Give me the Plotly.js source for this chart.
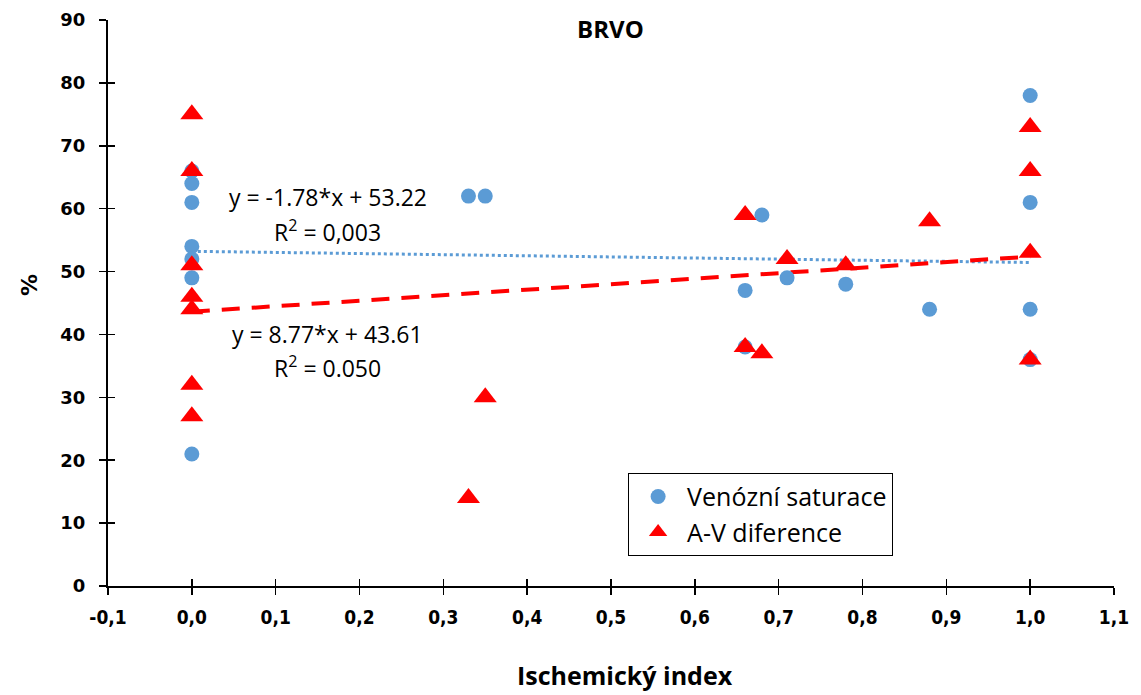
<!DOCTYPE html>
<html>
<head>
<meta charset="utf-8">
<script src="https://cdn.plot.ly/plotly-3.0.1.min.js"></script>
<style>html,body{margin:0;padding:0;background:#fff;}#chart{width:1141px;height:695px;}</style>
</head>
<body>
<div id="chart"></div>
<script>
// Data
const venX = [0, 0, 0, 0, 0, 0, 0, 0.33, 0.35, 0.66, 0.66, 0.68, 0.71, 0.78, 0.88, 1.0, 1.0, 1.0, 1.0];
const venY = [66, 64, 61, 54, 52, 49, 21, 62, 62, 47, 38, 59, 49, 48, 44, 78, 61, 44, 36];
const avX = [0, 0, 0, 0, 0, 0, 0, 0.33, 0.35, 0.66, 0.66, 0.68, 0.71, 0.78, 0.88, 1.0, 1.0, 1.0, 1.0];
const avY = [75, 66, 51, 46, 44, 32, 27, 14, 30, 59, 38, 37, 52, 51, 58, 73, 66, 53, 36];
// Trend line coefficients (slope, intercept) as printed on the chart
const venFit = [-1.78, 53.22];
const avFit = [8.77, 43.61];
const fitX = [0, 1];
const xTickVals = [-0.1, 0, 0.1, 0.2, 0.3, 0.4, 0.5, 0.6, 0.7, 0.8, 0.9, 1.0, 1.1];
const xTickText = ['-0,1', '0,0', '0,1', '0,2', '0,3', '0,4', '0,5', '0,6', '0,7', '0,8', '0,9', '1,0', '1,1'];
const yTickVals = [0, 10, 20, 30, 40, 50, 60, 70, 80, 90];

const blue = '#5B9BD5';
const red = '#FF0000';
const txtFont = 'Open Sans, Liberation Sans, sans-serif';

const traces = [
  {x: fitX, y: fitX.map(v => venFit[0] * v + venFit[1]), mode: 'lines', showlegend: false,
   line: {color: blue, width: 3, dash: 'dot'}, hoverinfo: 'skip'},
  {x: fitX, y: fitX.map(v => avFit[0] * v + avFit[1]), mode: 'lines', showlegend: false,
   line: {color: red, width: 4, dash: '18px,12px'}, hoverinfo: 'skip'},
  {x: venX, y: venY, mode: 'markers', name: 'Venózní saturace',
   marker: {symbol: 'circle', size: 15, color: blue}},
  {x: avX, y: avY, mode: 'markers', name: 'A-V diference',
   marker: {symbol: 'triangle-up', size: 20, color: red}},
  {x: [0], y: [0], xaxis: 'x2', yaxis: 'y2', mode: 'markers', marker: {opacity: 0}, showlegend: false, hoverinfo: 'skip'}
];

const annFont = {family: txtFont, size: 23, color: '#000'};
const layout = {
  width: 1141, height: 695,
  margin: {l: 108, r: 27, t: 20, b: 109},
  paper_bgcolor: '#fff', plot_bgcolor: '#fff',
  title: {text: '<b>BRVO</b>', x: 0.535, xanchor: 'center', xref: 'container', y: 0.957, yanchor: 'middle', yref: 'container',
          font: {family: txtFont, size: 24, color: '#000'}},
  showlegend: true,
  legend: {x: 0.517, y: 0.2, xanchor: 'left', yanchor: 'top', bgcolor: '#fff',
           bordercolor: '#000', borderwidth: 1,
           font: {family: txtFont, size: 25, color: '#000'}, tracegroupgap: 0,
           itemwidth: 48},
  xaxis: {range: [-0.1, 1.1], tickvals: xTickVals, ticktext: xTickText,
          showgrid: false, zeroline: false, showline: true, linecolor: '#000', linewidth: 2,
          ticks: 'outside', ticklen: 7, tickwidth: 1.5, tickcolor: '#000', ticklabelstandoff: 6,
          tickfont: {family: 'Liberation Sans Narrow, DejaVu Sans Condensed, Arial Narrow, sans-serif', size: 19, color: '#000', weight: 'bold'}},
  yaxis: {range: [0, 90], tickvals: yTickVals,
          showgrid: false, zeroline: false, showline: true, linecolor: '#000', linewidth: 2,
          ticks: 'outside', ticklen: 7, tickwidth: 1.5, tickcolor: '#000', ticklabelstandoff: 10,
          tickfont: {family: 'DejaVu Sans, Verdana, sans-serif', size: 18, color: '#000', weight: 'bold'}},
  xaxis2: {overlaying: 'x', anchor: 'y2', range: [-0.1, 1.1], tickvals: xTickVals,
           showticklabels: false, showgrid: false, zeroline: false, showline: false,
           ticks: 'inside', ticklen: 7, tickwidth: 1.5, tickcolor: '#000'},
  yaxis2: {overlaying: 'y', anchor: 'x2', range: [0, 90], tickvals: yTickVals,
           showticklabels: false, showgrid: false, zeroline: false, showline: false,
           ticks: 'inside', ticklen: 7, tickwidth: 1.5, tickcolor: '#000'},
  annotations: [
    {x: 0.162, y: 61.8, xref: 'x', yref: 'y', showarrow: false, xanchor: 'center',
     text: 'y = -1.78*x + 53.22', font: annFont},
    {x: 0.162, y: 56.5, xref: 'x', yref: 'y', showarrow: false, xanchor: 'center',
     text: 'R<sup>2</sup> = 0,003', font: annFont},
    {x: 0.162, y: 40, xref: 'x', yref: 'y', showarrow: false, xanchor: 'center',
     text: 'y = 8.77*x + 43.61', font: annFont},
    {x: 0.162, y: 34.8, xref: 'x', yref: 'y', showarrow: false, xanchor: 'center',
     text: 'R<sup>2</sup> = 0.050', font: annFont},
    {x: -0.0775, y: 0.532, xref: 'paper', yref: 'paper', showarrow: false, textangle: -90,
     xanchor: 'center', yanchor: 'middle', text: '<b>%</b>',
     font: {family: 'DejaVu Sans, Verdana, sans-serif', size: 22, color: '#000'}},
    {x: 0.514, y: -0.157, xref: 'paper', yref: 'paper', showarrow: false,
     xanchor: 'center', yanchor: 'middle', text: '<b>Ischemický index</b>',
     font: {family: txtFont, size: 25, color: '#000'}}
  ]
};

Plotly.newPlot('chart', traces, layout, {displayModeBar: false, staticPlot: true});
</script>
</body>
</html>
